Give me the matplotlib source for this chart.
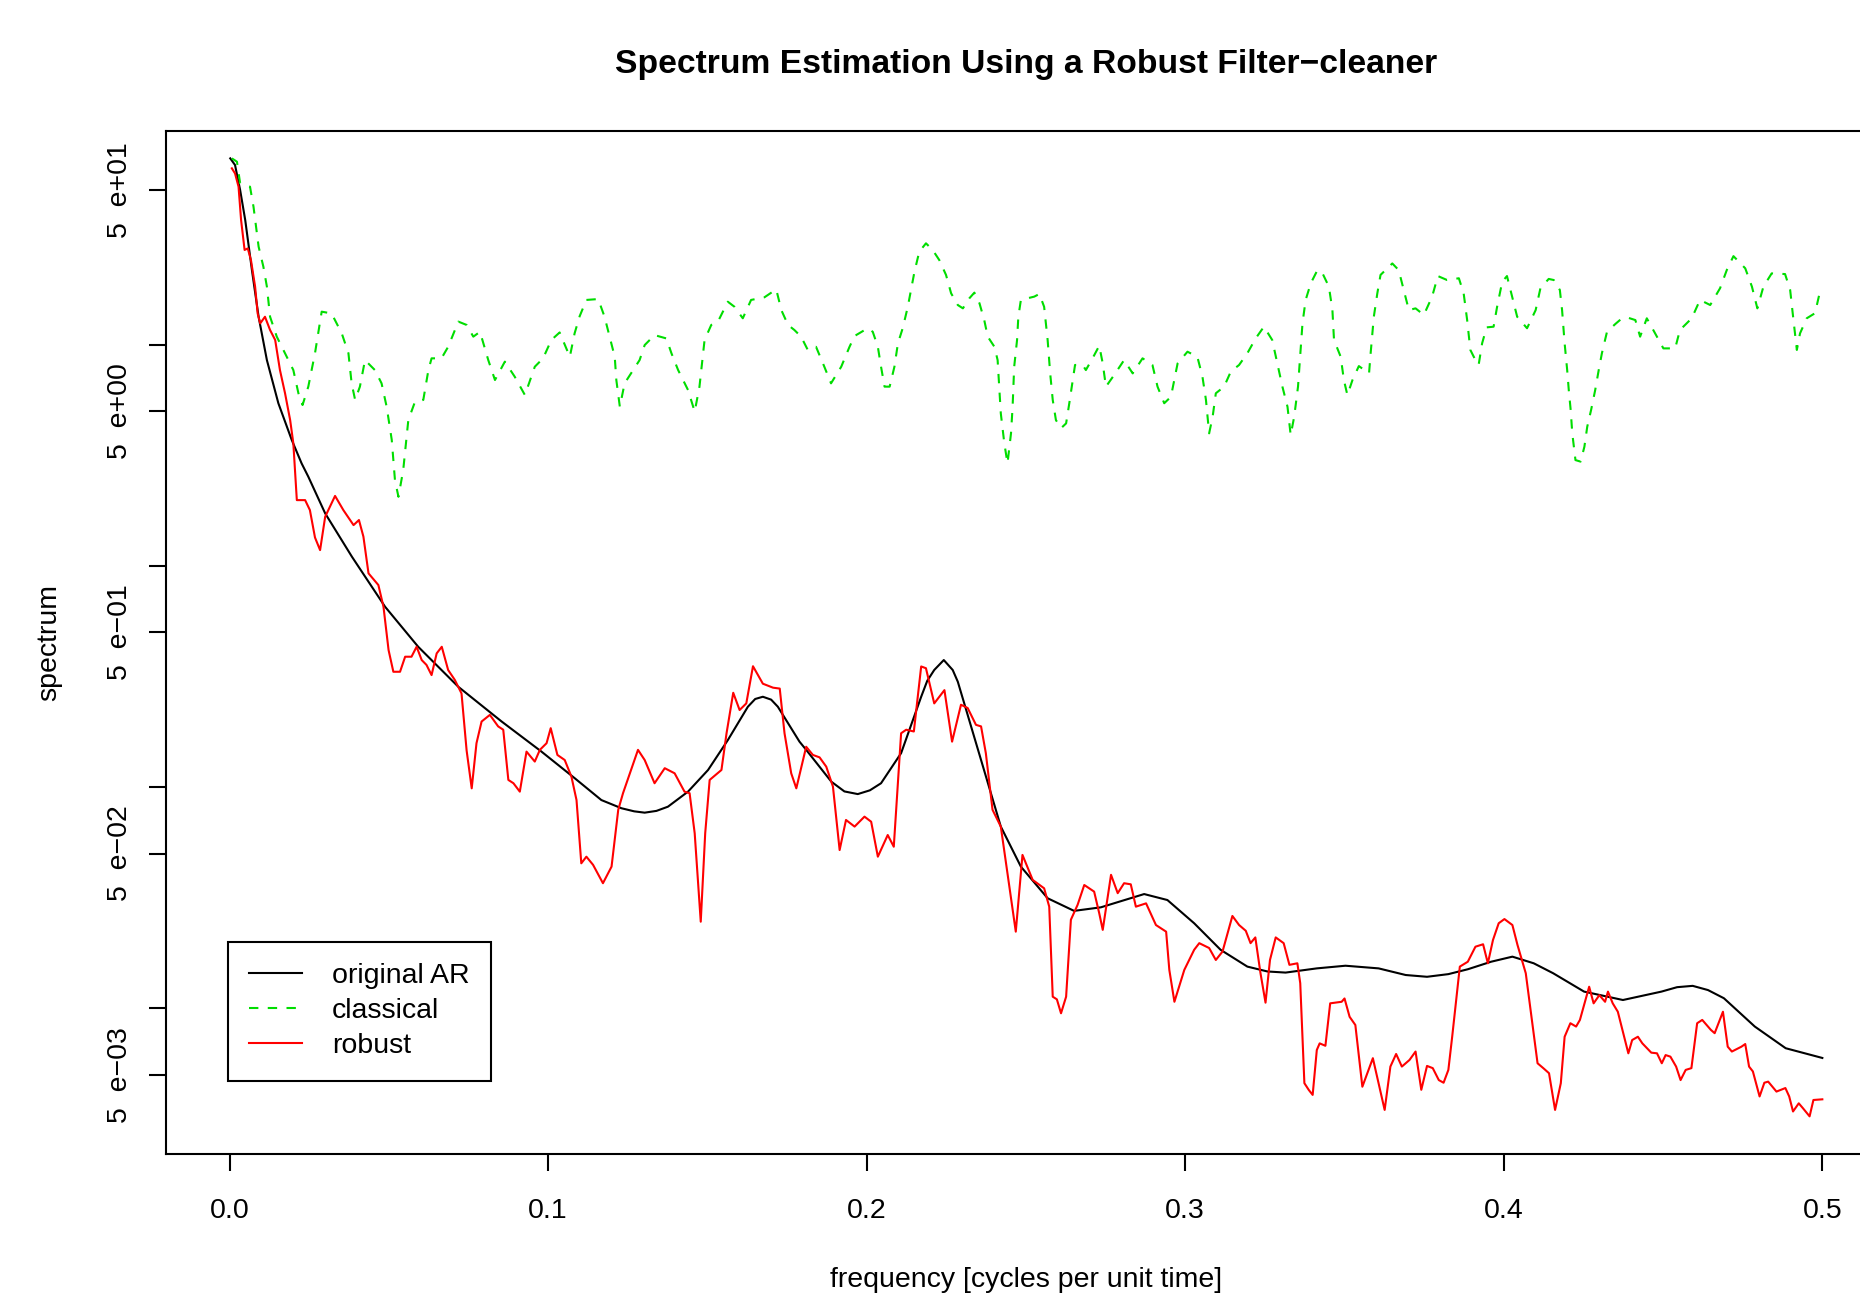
import matplotlib
matplotlib.use("Agg")
import matplotlib.pyplot as plt
from matplotlib.lines import Line2D
import numpy as np

plt.rcParams["font.family"] = ["Liberation Sans", "DejaVu Sans"]

# values: frequency and log10(spectrum)
ar_freq = [0.0002, 0.0017, 0.0033, 0.0049, 0.0070, 0.0091, 0.0117, 0.0153, 0.0195, 0.0226,
           0.0247, 0.0300, 0.0384, 0.0488, 0.0592, 0.0718, 0.0854, 0.0979, 0.1084, 0.1167,
           0.1230, 0.1270, 0.1303, 0.1340, 0.1376, 0.1439, 0.1502, 0.1564, 0.1627, 0.1650,
           0.1674, 0.1700, 0.1721, 0.1789, 0.1810, 0.1889, 0.1930, 0.1972, 0.2010, 0.2045,
           0.2108, 0.2171, 0.2190, 0.2212, 0.2242, 0.2270, 0.2286, 0.2359, 0.2421, 0.2484,
           0.2568, 0.2651, 0.2735, 0.2871, 0.2944, 0.3028, 0.3111, 0.3195, 0.3258, 0.3315,
           0.3413, 0.3503, 0.3607, 0.3692, 0.3759, 0.3826, 0.3887, 0.3960, 0.4027, 0.4094,
           0.4155, 0.4252, 0.4374, 0.4495, 0.4544, 0.4593, 0.4641, 0.4691, 0.4788, 0.4885,
           0.5000]
ar_log = [1.842, 1.812, 1.699, 1.563, 1.337, 1.126, 0.930, 0.735, 0.569, 0.463,
          0.403, 0.237, 0.041, -0.185, -0.366, -0.547, -0.704, -0.840, -0.961, -1.059,
          -1.096, -1.110, -1.116, -1.108, -1.089, -1.021, -0.923, -0.788, -0.637, -0.602,
          -0.592, -0.605, -0.637, -0.795, -0.832, -0.976, -1.020, -1.032, -1.015, -0.983,
          -0.847, -0.592, -0.520, -0.471, -0.426, -0.471, -0.524, -0.878, -1.179, -1.360,
          -1.503, -1.560, -1.544, -1.484, -1.511, -1.616, -1.736, -1.812, -1.834, -1.839,
          -1.820, -1.808, -1.820, -1.850, -1.858, -1.846, -1.824, -1.790, -1.767, -1.797,
          -1.842, -1.925, -1.963, -1.925, -1.905, -1.899, -1.918, -1.955, -2.083, -2.181,
          -2.225]

classical_freq = [0.0007, 0.0023, 0.0033, 0.0064, 0.0075, 0.0091, 0.0106, 0.0117, 0.0127, 0.0148,
                  0.0174, 0.0200, 0.0216, 0.0229, 0.0247, 0.0268, 0.0289, 0.0320, 0.0352, 0.0373,
                  0.0383, 0.0394, 0.0409, 0.0425, 0.0456, 0.0477, 0.0493, 0.0509, 0.0519, 0.0530,
                  0.0545, 0.0561, 0.0582, 0.0608, 0.0624, 0.0634, 0.0665, 0.0686, 0.0718, 0.0744,
                  0.0765, 0.0786, 0.0812, 0.0833, 0.0864, 0.0895, 0.0927, 0.0958, 0.0984, 0.1010,
                  0.1036, 0.1068, 0.1083, 0.1099, 0.1120, 0.1157, 0.1177, 0.1193, 0.1209, 0.1214,
                  0.1225, 0.1240, 0.1267, 0.1287, 0.1303, 0.1334, 0.1371, 0.1387, 0.1408, 0.1439,
                  0.1460, 0.1475, 0.1491, 0.1512, 0.1533, 0.1564, 0.1585, 0.1611, 0.1637, 0.1679,
                  0.1716, 0.1732, 0.1753, 0.1773, 0.1794, 0.1815, 0.1841, 0.1867, 0.1888, 0.1920,
                  0.1946, 0.1962, 0.2003, 0.2019, 0.2035, 0.2045, 0.2056, 0.2072, 0.2087, 0.2098,
                  0.2113, 0.2129, 0.2139, 0.2150, 0.2165, 0.2186, 0.2207, 0.2228, 0.2249, 0.2265,
                  0.2286, 0.2302, 0.2322, 0.2338, 0.2354, 0.2369, 0.2380, 0.2401, 0.2411, 0.2416,
                  0.2421, 0.2432, 0.2442, 0.2453, 0.2458, 0.2463, 0.2472, 0.2476, 0.2484, 0.2526,
                  0.2542, 0.2557, 0.2568, 0.2576, 0.2584, 0.2594, 0.2610, 0.2626, 0.2636, 0.2647,
                  0.2654, 0.2678, 0.2688, 0.2709, 0.2730, 0.2741, 0.2751, 0.2777, 0.2808, 0.2835,
                  0.2866, 0.2897, 0.2913, 0.2934, 0.2955, 0.2976, 0.3007, 0.3038, 0.3054, 0.3065,
                  0.3075, 0.3086, 0.3096, 0.3122, 0.3143, 0.3169, 0.3195, 0.3221, 0.3247, 0.3273,
                  0.3289, 0.3305, 0.3321, 0.3331, 0.3342, 0.3354, 0.3362, 0.3368, 0.3378, 0.3394,
                  0.3415, 0.3431, 0.3451, 0.3462, 0.3467, 0.3488, 0.3498, 0.3509, 0.3525, 0.3545,
                  0.3577, 0.3582, 0.3592, 0.3603, 0.3613, 0.3650, 0.3670, 0.3686, 0.3702, 0.3723,
                  0.3749, 0.3775, 0.3793, 0.3822, 0.3859, 0.3874, 0.3885, 0.3895, 0.3911, 0.3921,
                  0.3932, 0.3946, 0.3968, 0.3979, 0.3995, 0.4010, 0.4026, 0.4042, 0.4073, 0.4100,
                  0.4115, 0.4141, 0.4157, 0.4176, 0.4183, 0.4191, 0.4199, 0.4204, 0.4210, 0.4215,
                  0.4225, 0.4241, 0.4253, 0.4262, 0.4274, 0.4287, 0.4298, 0.4308, 0.4324, 0.4350,
                  0.4371, 0.4387, 0.4413, 0.4428, 0.4449, 0.4475, 0.4501, 0.4538, 0.4553, 0.4590,
                  0.4616, 0.4648, 0.4679, 0.4700, 0.4721, 0.4758, 0.4779, 0.4796, 0.4815, 0.4841,
                  0.4883, 0.4899, 0.4907, 0.4920, 0.4930, 0.4951, 0.4977, 0.4995]
classical_log = [1.842, 1.827, 1.729, 1.714, 1.623, 1.443, 1.352, 1.262, 1.126, 1.036,
                 0.961, 0.885, 0.780, 0.727, 0.810, 0.961, 1.149, 1.141, 1.051, 0.961,
                 0.825, 0.750, 0.810, 0.930, 0.885, 0.825, 0.719, 0.569, 0.388, 0.312,
                 0.433, 0.659, 0.742, 0.750, 0.885, 0.938, 0.938, 0.990, 1.104, 1.089,
                 1.036, 1.058, 0.930, 0.840, 0.923, 0.855, 0.772, 0.900, 0.938, 1.021,
                 1.055, 0.945, 1.051, 1.129, 1.202, 1.206, 1.126, 1.036, 0.945, 0.840,
                 0.719, 0.825, 0.885, 0.930, 0.998, 1.043, 1.028, 0.961, 0.885, 0.795,
                 0.697, 0.810, 1.021, 1.089, 1.104, 1.194, 1.171, 1.119, 1.202, 1.214,
                 1.250, 1.156, 1.089, 1.066, 1.036, 0.976, 0.990, 0.900, 0.825, 0.900,
                 0.990, 1.039, 1.074, 1.058, 0.990, 0.900, 0.810, 0.810, 0.900, 1.006,
                 1.074, 1.171, 1.247, 1.330, 1.420, 1.458, 1.428, 1.382, 1.315, 1.232,
                 1.179, 1.164, 1.209, 1.235, 1.187, 1.111, 1.036, 0.990, 0.930, 0.810,
                 0.689, 0.554, 0.463, 0.599, 0.719, 0.900, 1.021, 1.126, 1.202, 1.217,
                 1.229, 1.171, 1.021, 0.870, 0.750, 0.659, 0.622, 0.644, 0.735, 0.840,
                 0.908, 0.908, 0.885, 0.938, 0.995, 0.915, 0.810, 0.863, 0.930, 0.870,
                 0.938, 0.908, 0.810, 0.735, 0.764, 0.915, 0.968, 0.945, 0.855, 0.750,
                 0.599, 0.674, 0.780, 0.810, 0.878, 0.908, 0.961, 1.028, 1.081, 1.021,
                 0.915, 0.810, 0.719, 0.591, 0.674, 0.810, 0.976, 1.096, 1.202, 1.277,
                 1.337, 1.322, 1.262, 1.156, 1.021, 0.945, 0.840, 0.772, 0.840, 0.903,
                 0.870, 0.961, 1.126, 1.232, 1.315, 1.367, 1.337, 1.247, 1.156, 1.164,
                 1.134, 1.217, 1.310, 1.292, 1.300, 1.232, 1.111, 0.976, 0.930, 0.908,
                 1.006, 1.078, 1.081, 1.171, 1.284, 1.310, 1.217, 1.126, 1.074, 1.156,
                 1.255, 1.297, 1.292, 1.247, 1.156, 1.006, 0.885, 0.795, 0.704, 0.599,
                 0.478, 0.471, 0.538, 0.629, 0.704, 0.795, 0.885, 0.961, 1.058, 1.093,
                 1.119, 1.123, 1.111, 1.036, 1.119, 1.051, 0.983, 0.983, 1.066, 1.119,
                 1.202, 1.179, 1.255, 1.337, 1.400, 1.345, 1.262, 1.164, 1.262, 1.322,
                 1.319, 1.247, 1.142, 0.976, 1.051, 1.119, 1.142, 1.255]

robust_freq = [0.0007, 0.0017, 0.0028, 0.0036, 0.0047, 0.0057, 0.0067, 0.0080, 0.0088, 0.0096,
               0.0111, 0.0127, 0.0143, 0.0158, 0.0174, 0.0190, 0.0200, 0.0211, 0.0237, 0.0252,
               0.0268, 0.0284, 0.0300, 0.0331, 0.0357, 0.0389, 0.0406, 0.0420, 0.0436, 0.0467,
               0.0483, 0.0499, 0.0514, 0.0535, 0.0551, 0.0571, 0.0587, 0.0603, 0.0618, 0.0634,
               0.0650, 0.0666, 0.0686, 0.0707, 0.0728, 0.0744, 0.0760, 0.0775, 0.0791, 0.0817,
               0.0843, 0.0859, 0.0875, 0.0891, 0.0911, 0.0932, 0.0958, 0.0974, 0.0995, 0.1008,
               0.1029, 0.1052, 0.1073, 0.1089, 0.1104, 0.1120, 0.1141, 0.1172, 0.1199, 0.1220,
               0.1235, 0.1282, 0.1303, 0.1334, 0.1366, 0.1397, 0.1428, 0.1444, 0.1460, 0.1479,
               0.1493, 0.1507, 0.1544, 0.1560, 0.1581, 0.1601, 0.1622, 0.1643, 0.1674, 0.1706,
               0.1727, 0.1742, 0.1763, 0.1779, 0.1810, 0.1831, 0.1852, 0.1873, 0.1894, 0.1915,
               0.1935, 0.1962, 0.1993, 0.2014, 0.2035, 0.2066, 0.2085, 0.2108, 0.2124, 0.2148,
               0.2171, 0.2186, 0.2212, 0.2244, 0.2268, 0.2296, 0.2317, 0.2343, 0.2359, 0.2374,
               0.2395, 0.2421, 0.2442, 0.2468, 0.2489, 0.2521, 0.2557, 0.2573, 0.2584, 0.2597,
               0.2610, 0.2626, 0.2641, 0.2662, 0.2683, 0.2714, 0.2730, 0.2741, 0.2767, 0.2788,
               0.2808, 0.2829, 0.2845, 0.2877, 0.2908, 0.2940, 0.2950, 0.2966, 0.2997, 0.3028,
               0.3044, 0.3075, 0.3096, 0.3117, 0.3148, 0.3169, 0.3190, 0.3205, 0.3220, 0.3236,
               0.3252, 0.3266, 0.3284, 0.3309, 0.3327, 0.3352, 0.3361, 0.3374, 0.3388, 0.3400,
               0.3413, 0.3422, 0.3440, 0.3455, 0.3491, 0.3500, 0.3516, 0.3534, 0.3556, 0.3589,
               0.3607, 0.3626, 0.3644, 0.3662, 0.3680, 0.3704, 0.3723, 0.3741, 0.3759, 0.3777,
               0.3796, 0.3811, 0.3826, 0.3838, 0.3862, 0.3887, 0.3911, 0.3935, 0.3950, 0.3966,
               0.3984, 0.4002, 0.4027, 0.4043, 0.4069, 0.4088, 0.4106, 0.4124, 0.4142, 0.4161,
               0.4179, 0.4191, 0.4209, 0.4227, 0.4239, 0.4268, 0.4282, 0.4300, 0.4318, 0.4327,
               0.4342, 0.4358, 0.4391, 0.4403, 0.4421, 0.4435, 0.4463, 0.4481, 0.4496, 0.4508,
               0.4523, 0.4541, 0.4555, 0.4571, 0.4589, 0.4607, 0.4623, 0.4650, 0.4662, 0.4688,
               0.4703, 0.4716, 0.4746, 0.4758, 0.4770, 0.4782, 0.4803, 0.4818, 0.4830, 0.4856,
               0.4884, 0.4896, 0.4908, 0.4926, 0.4939, 0.4960, 0.4972, 0.5000]
robust_log = [1.797, 1.774, 1.714, 1.563, 1.428, 1.435, 1.382, 1.262, 1.141, 1.096,
              1.126, 1.066, 1.021, 0.885, 0.780, 0.659, 0.554, 0.297, 0.297, 0.252,
              0.128, 0.071, 0.222, 0.316, 0.252, 0.184, 0.207, 0.132, -0.034, -0.087,
              -0.185, -0.381, -0.479, -0.479, -0.411, -0.411, -0.366, -0.426, -0.448, -0.494,
              -0.396, -0.366, -0.471, -0.516, -0.577, -0.835, -1.006, -0.802, -0.704, -0.674,
              -0.726, -0.741, -0.968, -0.983, -1.021, -0.840, -0.885, -0.832, -0.802, -0.734,
              -0.855, -0.878, -0.953, -1.059, -1.345, -1.315, -1.352, -1.435, -1.360, -1.103,
              -1.028, -0.832, -0.878, -0.983, -0.915, -0.938, -1.021, -1.028, -1.209, -1.609,
              -1.209, -0.968, -0.923, -0.757, -0.574, -0.652, -0.622, -0.454, -0.533, -0.551,
              -0.555, -0.757, -0.938, -1.006, -0.818, -0.855, -0.866, -0.908, -0.998, -1.285,
              -1.149, -1.179, -1.134, -1.157, -1.315, -1.217, -1.270, -0.757, -0.741, -0.749,
              -0.455, -0.463, -0.622, -0.562, -0.795, -0.628, -0.643, -0.719, -0.726, -0.847,
              -1.103, -1.179, -1.390, -1.654, -1.307, -1.420, -1.458, -1.541, -1.948, -1.960,
              -2.023, -1.948, -1.600, -1.533, -1.443, -1.473, -1.571, -1.646, -1.397, -1.480,
              -1.435, -1.440, -1.541, -1.526, -1.624, -1.654, -1.827, -1.971, -1.827, -1.736,
              -1.706, -1.728, -1.782, -1.744, -1.583, -1.624, -1.650, -1.706, -1.680, -1.840,
              -1.975, -1.782, -1.680, -1.706, -1.804, -1.797, -1.887, -2.339, -2.370, -2.392,
              -2.189, -2.159, -2.170, -1.978, -1.971, -1.956, -2.039, -2.076, -2.355, -2.226,
              -2.339, -2.460, -2.264, -2.207, -2.264, -2.234, -2.196, -2.369, -2.261, -2.271,
              -2.325, -2.337, -2.279, -2.129, -1.812, -1.790, -1.722, -1.711, -1.797, -1.692,
              -1.616, -1.597, -1.624, -1.714, -1.842, -2.053, -2.249, -2.271, -2.294, -2.460,
              -2.339, -2.129, -2.068, -2.083, -2.053, -1.903, -1.978, -1.941, -1.971, -1.925,
              -1.978, -2.016, -2.204, -2.144, -2.129, -2.159, -2.201, -2.204, -2.249, -2.212,
              -2.219, -2.264, -2.325, -2.279, -2.271, -2.068, -2.053, -2.098, -2.113, -2.016,
              -2.174, -2.196, -2.174, -2.162, -2.264, -2.286, -2.399, -2.337, -2.332, -2.377,
              -2.361, -2.399, -2.467, -2.430, -2.452, -2.489, -2.415, -2.412]

ytick_values = [5e-3, 1e-2, 5e-2, 1e-1, 5e-1, 1e0, 5e0, 1e1, 5e1]
ytick_labels = ["5  e\u221203", "", "5  e\u221202", "", "5  e\u221201", "", "5  e+00", "", "5  e+01"]
xtick_values = [0.0, 0.1, 0.2, 0.3, 0.4, 0.5]
xtick_labels = ["0.0", "0.1", "0.2", "0.3", "0.4", "0.5"]
legend_labels = ["original AR", "classical", "robust"]

FS = 20.5
LW = 1.5
green = "#00DD00"
dash = (0, (4.5, 4.5))

fig = plt.figure(figsize=(18.6, 12.96), dpi=100)
ax = fig.add_axes([0.0892, 0.1096, 0.9248, 0.7897])

ax.plot(ar_freq, 10 ** np.array(ar_log), color="black", lw=LW)
ax.plot(classical_freq, 10 ** np.array(classical_log), color=green, lw=LW, linestyle=dash)
ax.plot(robust_freq, 10 ** np.array(robust_log), color="red", lw=LW)

ax.set_yscale("log")
ax.set_xlim(-0.02, 0.52)
ax.set_ylim(10 ** -2.659, 10 ** 1.968)

ax.set_xticks(xtick_values)
ax.set_xticklabels(xtick_labels)
ax.set_yticks(ytick_values)
ax.set_yticklabels(ytick_labels, rotation=90, va="center")
ax.yaxis.set_minor_locator(matplotlib.ticker.NullLocator())
ax.tick_params(direction="out", length=12, width=LW, labelsize=FS, colors="black")
ax.tick_params(axis="x", pad=20)
ax.tick_params(axis="y", pad=12)
for s in ax.spines.values():
    s.set_linewidth(LW)

fig.text(0.5516, 0.9505, "Spectrum Estimation Using a Robust Filter\u2212cleaner",
         ha="center", va="center", fontsize=24.2, fontweight="bold")
fig.text(0.5516, 0.0121, "frequency [cycles per unit time]", ha="center", va="center", fontsize=FS)
fig.text(0.0266, 0.5046, "spectrum", ha="center", va="center", rotation=90, fontsize=FS)

handles = [Line2D([], [], color="black", lw=LW),
           Line2D([], [], color=green, lw=LW, linestyle=dash),
           Line2D([], [], color="red", lw=LW)]
leg = ax.legend(handles, legend_labels, loc="upper left", bbox_to_anchor=(0.0359, 0.2073),
                borderaxespad=0, fancybox=False, edgecolor="black", framealpha=1,
                fontsize=FS, handlelength=1.85, handletextpad=1.05, borderpad=0.76,
                labelspacing=0.31)
leg.get_frame().set_linewidth(LW)

fig.savefig("out.png", dpi=100)
